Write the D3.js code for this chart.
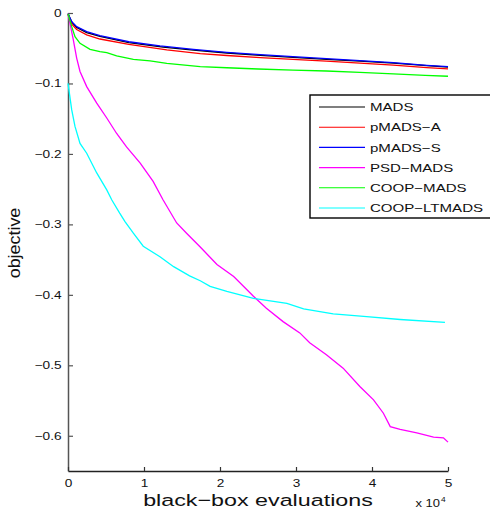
<!DOCTYPE html>
<html><head><meta charset="utf-8">
<script src="https://cdn.jsdelivr.net/npm/d3@7"></script>
<style>body{margin:0;background:#fff}svg{display:block}text{font-family:"Liberation Sans",Arial,Helvetica,sans-serif}</style>
</head><body>
<svg id="chart" width="490" height="510"></svg>
<script>
// evaluations in units of 1e4, objective values
const seriesNames = ["MADS","pMADS-A","pMADS-S","PSD-MADS","COOP-MADS","COOP-LTMADS"];
const seriesColors = ["#000000","#ff0000","#0000ff","#ff00ff","#00ff00","#00ffff"];
const xTicks = [0,1,2,3,4,5];
const yTicks = [0,-0.1,-0.2,-0.3,-0.4,-0.5,-0.6];

const mads = [[0,-0.001],[0.05,-0.013],[0.114,-0.0205],[0.246,-0.0278],[0.42,-0.0333],[0.8,-0.042],[1.25,-0.0483],[1.65,-0.0527],[2.09,-0.0568],[2.53,-0.0601],[2.96,-0.063],[3.4,-0.0657],[3.84,-0.0684],[4.28,-0.0712],[4.72,-0.0748],[5,-0.0768]];
const pmadsA = [[0,-0.002],[0.05,-0.016],[0.114,-0.0235],[0.246,-0.031],[0.42,-0.0369],[0.8,-0.0445],[1.3,-0.0522],[1.74,-0.0578],[2.09,-0.0603],[2.53,-0.0633],[2.96,-0.0657],[3.4,-0.0684],[3.84,-0.0711],[4.28,-0.074],[4.72,-0.0775],[5,-0.0794]];
const pmadsS = [[0,-0.001],[0.05,-0.0123],[0.114,-0.0194],[0.246,-0.0265],[0.42,-0.032],[0.8,-0.0408],[1.21,-0.0468],[1.65,-0.0515],[2.09,-0.0558],[2.53,-0.0591],[2.96,-0.062],[3.4,-0.0648],[3.84,-0.0676],[4.28,-0.0705],[4.72,-0.0742],[5,-0.076]];
const psdMads = [[0,-0.001],[0.026,-0.0146],[0.07,-0.038],[0.114,-0.064],[0.158,-0.083],[0.246,-0.1045],[0.378,-0.128],[0.51,-0.149],[0.64,-0.171],[0.77,-0.19],[0.95,-0.213],[1.12,-0.239],[1.25,-0.265],[1.43,-0.298],[1.56,-0.3125],[1.74,-0.332],[1.96,-0.357],[2.18,-0.374],[2.44,-0.402],[2.61,-0.419],[2.83,-0.438],[3.05,-0.454],[3.18,-0.468],[3.4,-0.485],[3.62,-0.504],[3.84,-0.53],[4.02,-0.549],[4.15,-0.568],[4.24,-0.587],[4.37,-0.591],[4.59,-0.596],[4.81,-0.602],[4.94,-0.603],[5,-0.609]];
const coopMads = [[0,-0.001],[0.049,-0.0194],[0.092,-0.0336],[0.158,-0.043],[0.29,-0.0515],[0.42,-0.0549],[0.51,-0.0563],[0.64,-0.061],[0.86,-0.0657],[1.08,-0.068],[1.3,-0.0714],[1.74,-0.0762],[2.09,-0.0777],[2.5,-0.0795],[2.96,-0.081],[3.4,-0.0823],[3.84,-0.0843],[4.28,-0.0865],[4.7,-0.0885],[5,-0.0898]];
const coopLtmads = [[0,-0.1],[0.049,-0.1376],[0.092,-0.161],[0.158,-0.185],[0.246,-0.199],[0.378,-0.227],[0.51,-0.251],[0.575,-0.265],[0.68,-0.284],[0.75,-0.296],[0.86,-0.3125],[0.99,-0.331],[1.21,-0.346],[1.39,-0.36],[1.6,-0.373],[1.74,-0.38],[1.87,-0.388],[2.09,-0.395],[2.44,-0.405],[2.88,-0.412],[3.1,-0.42],[3.49,-0.427],[3.93,-0.431],[4.37,-0.435],[4.96,-0.439]];

const seriesData = [mads, pmadsA, pmadsS, psdMads, coopMads, coopLtmads];

const svg = d3.select("#chart");
const x = d3.scaleLinear().domain([0,5]).range([68,448]);
const y = d3.scaleLinear().domain([-0.65,0]).range([471,13]);

const fmtY = d => d === 0 ? "0" : "\u2212" + d3.format(".1f")(-d);

// y axis
const gy = svg.append("g").attr("transform","translate(68,0)")
  .call(d3.axisLeft(y).tickValues(yTicks).tickFormat(fmtY).tickSizeInner(-5).tickSizeOuter(0).tickPadding(5));
gy.select(".domain").attr("stroke","#555").attr("stroke-width",1.5);
gy.selectAll(".tick line").attr("stroke","#555").attr("stroke-width",1.2);
gy.selectAll(".tick text").attr("font-size",10.5).attr("fill","#111")
  .attr("transform","scale(1.3,1)");

// x axis
const gx = svg.append("g").attr("transform","translate(0,471)")
  .call(d3.axisBottom(x).tickValues(xTicks).tickFormat(d3.format("d")).tickSizeInner(-4).tickSizeOuter(0).tickPadding(9));
gx.select(".domain").attr("stroke","#222").attr("stroke-width",1.3);
gx.selectAll(".tick line").attr("stroke","#333").attr("stroke-width",1.2);
gx.selectAll(".tick text").attr("font-size",10.5).attr("fill","#111")
  .attr("transform","scale(1.3,1)");

// lines
const line = d3.line().x(d => x(d[0])).y(d => y(d[1])).curve(d3.curveLinear);
svg.append("g").selectAll("path").data(seriesData).join("path")
  .attr("d", line).attr("fill","none")
  .attr("stroke",(d,i)=>seriesColors[i]).attr("stroke-width",1.3);

// axis labels
svg.append("text").attr("transform","translate(258,505.5) scale(1.37,1)")
  .attr("text-anchor","middle").attr("font-size",17).attr("fill","#111")
  .text("black\u2212box evaluations");
svg.append("text").attr("transform","translate(20,243) rotate(-90) scale(1.12,1)")
  .attr("text-anchor","middle").attr("font-size",16).attr("fill","#111")
  .text("objective");
svg.append("text").attr("transform","translate(440,507) scale(1.3,1)")
  .attr("text-anchor","end").attr("font-size",10).attr("fill","#111").text("x 10");
svg.append("text").attr("transform","translate(441,502) scale(1.2,1)")
  .attr("font-size",7).attr("fill","#111").text("4");

// legend
const lg = svg.append("g");
lg.append("rect").attr("x",310).attr("y",95).attr("width",182).attr("height",123)
  .attr("fill","#fff").attr("stroke","#000").attr("stroke-width",1.4);
const rows = lg.selectAll("g.row").data(seriesNames).join("g").attr("class","row")
  .attr("transform",(d,i)=>`translate(0,${107 + i*20.2})`);
rows.append("line").attr("x1",319).attr("x2",365).attr("y1",0).attr("y2",0)
  .attr("stroke",(d,i)=>seriesColors[i]).attr("stroke-width",1.1);
rows.append("text").attr("transform","translate(370,0) scale(1.31,1)")
  .attr("dy","0.36em").attr("font-size",11.5).attr("fill","#111")
  .text(d => d.replace("-","\u2212"));
</script>
</body></html>
